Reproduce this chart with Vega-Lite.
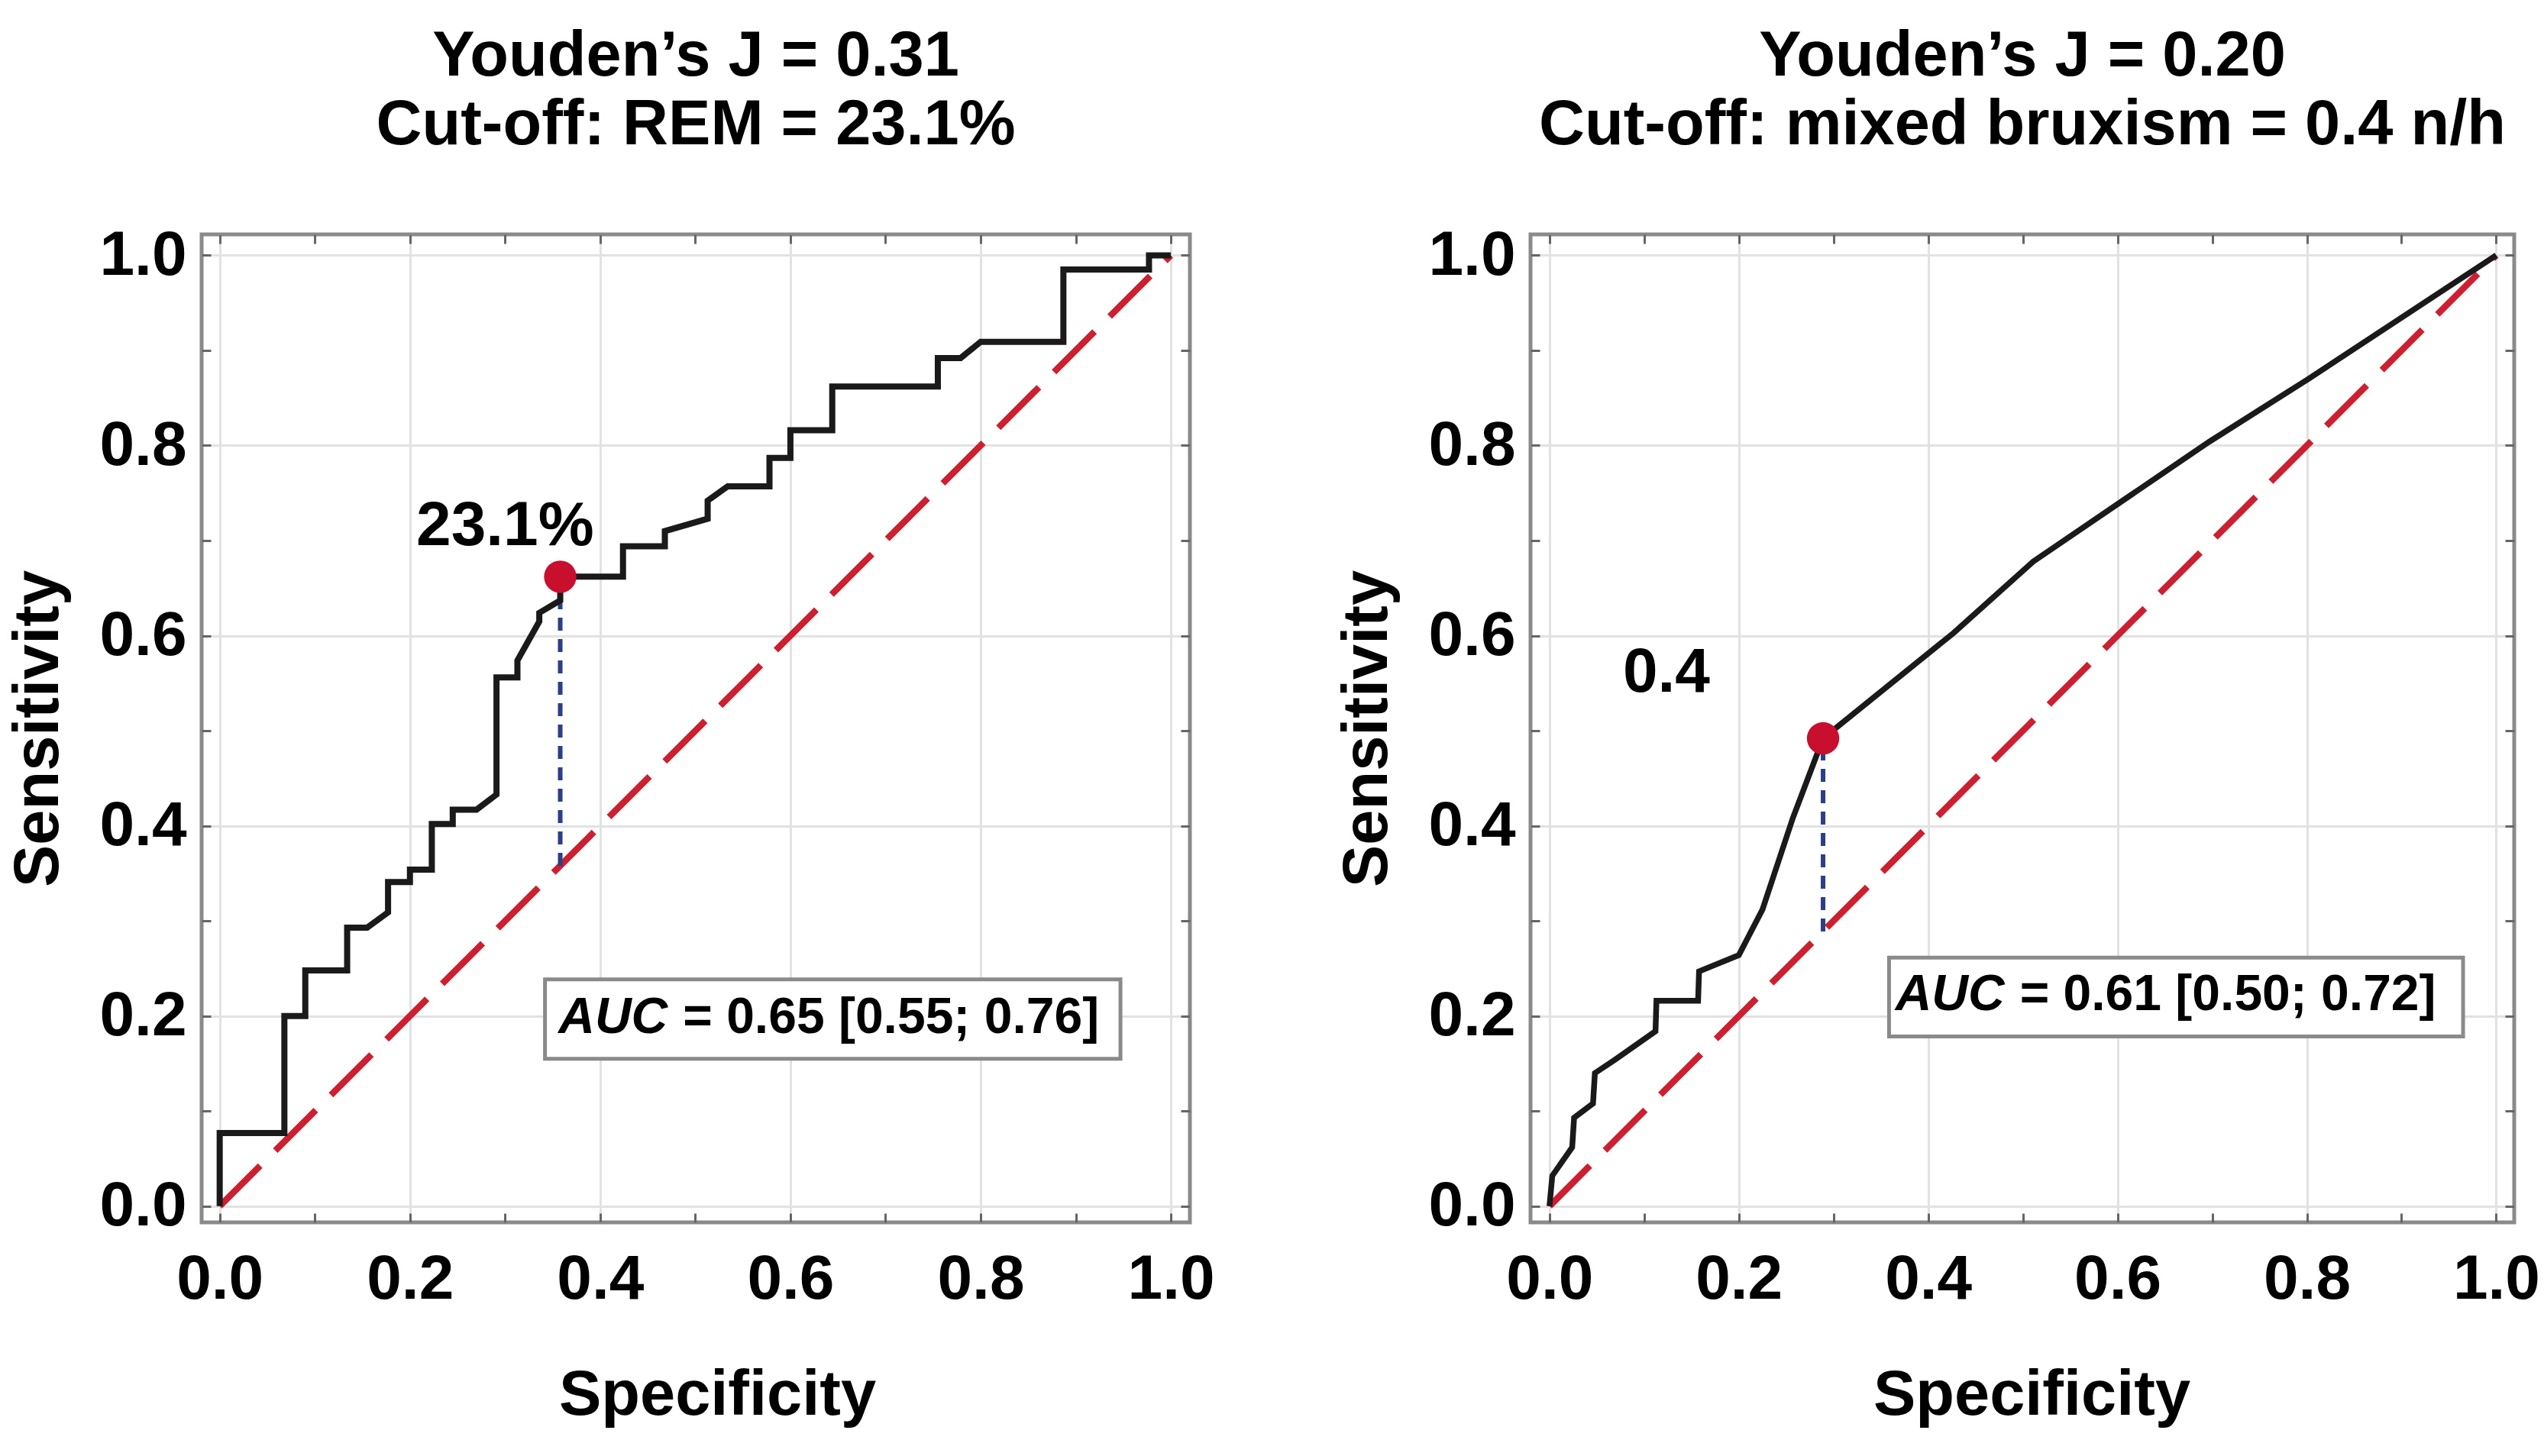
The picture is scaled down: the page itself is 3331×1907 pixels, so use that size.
{
  "$schema": "https://vega.github.io/schema/vega-lite/v6.json",
  "background": "white",
  "padding": {"left": 6, "top": 30, "right": 40, "bottom": 40},
  "spacing": 446,
  "bounds": "flush",
  "config": {
    "view": {"stroke": "#8a8a8a", "strokeWidth": 5},
    "font": "Liberation Sans",
    "title": {"font": "Liberation Sans", "fontSize": 83, "fontWeight": "bold", "color": "black", "lineHeight": 90, "offset": 87, "anchor": "middle", "frame": "group"},
    "axis": {"labelFont": "Liberation Sans", "labelFontWeight": "bold", "labelFontSize": 82, "labelColor": "black", "titleFont": "Liberation Sans", "titleFontWeight": "bold", "titleFontSize": 83, "titleColor": "black", "labelOverlap": false, "labelBound": false, "labelFlush": false, "domain": false, "tickColor": "#666666", "tickWidth": 3}
  },
  "datasets": {
    "roc1": [
      {"i":0,"sp":0,"se":0},{"i":1,"sp":0,"se":0.077},{"i":2,"sp":0.068,"se":0.077},{"i":3,"sp":0.068,"se":0.2},{"i":4,"sp":0.09,"se":0.2},{"i":5,"sp":0.09,"se":0.248},{"i":6,"sp":0.134,"se":0.248},{"i":7,"sp":0.134,"se":0.293},{"i":8,"sp":0.155,"se":0.293},{"i":9,"sp":0.177,"se":0.309},{"i":10,"sp":0.177,"se":0.341},{"i":11,"sp":0.2,"se":0.341},{"i":12,"sp":0.2,"se":0.354},{"i":13,"sp":0.223,"se":0.354},{"i":14,"sp":0.223,"se":0.402},{"i":15,"sp":0.245,"se":0.402},{"i":16,"sp":0.245,"se":0.417},{"i":17,"sp":0.27,"se":0.417},{"i":18,"sp":0.291,"se":0.433},{"i":19,"sp":0.291,"se":0.556},{"i":20,"sp":0.313,"se":0.556},{"i":21,"sp":0.313,"se":0.574},{"i":22,"sp":0.336,"se":0.615},{"i":23,"sp":0.336,"se":0.624},{"i":24,"sp":0.358,"se":0.637},{"i":25,"sp":0.358,"se":0.662},{"i":26,"sp":0.424,"se":0.662},{"i":27,"sp":0.424,"se":0.694},{"i":28,"sp":0.468,"se":0.694},{"i":29,"sp":0.468,"se":0.71},{"i":30,"sp":0.513,"se":0.723},{"i":31,"sp":0.513,"se":0.742},{"i":32,"sp":0.534,"se":0.757},{"i":33,"sp":0.578,"se":0.757},{"i":34,"sp":0.578,"se":0.787},{"i":35,"sp":0.6,"se":0.787},{"i":36,"sp":0.6,"se":0.816},{"i":37,"sp":0.644,"se":0.816},{"i":38,"sp":0.644,"se":0.862},{"i":39,"sp":0.755,"se":0.862},{"i":40,"sp":0.755,"se":0.892},{"i":41,"sp":0.779,"se":0.892},{"i":42,"sp":0.8,"se":0.909},{"i":43,"sp":0.887,"se":0.909},{"i":44,"sp":0.887,"se":0.985},{"i":45,"sp":0.977,"se":0.985},{"i":46,"sp":0.977,"se":1.0},{"i":47,"sp":1.0,"se":1.0}
    ],
    "roc2": [
      {"i":0,"sp":0,"se":0},{"i":1,"sp":0.003,"se":0.032},{"i":2,"sp":0.024,"se":0.062},{"i":3,"sp":0.026,"se":0.093},{"i":4,"sp":0.046,"se":0.108},{"i":5,"sp":0.048,"se":0.14},{"i":6,"sp":0.069,"se":0.154},{"i":7,"sp":0.112,"se":0.184},{"i":8,"sp":0.113,"se":0.216},{"i":9,"sp":0.157,"se":0.216},{"i":10,"sp":0.158,"se":0.247},{"i":11,"sp":0.2,"se":0.264},{"i":12,"sp":0.225,"se":0.312},{"i":13,"sp":0.257,"se":0.408},{"i":14,"sp":0.289,"se":0.492},{"i":15,"sp":0.427,"se":0.603},{"i":16,"sp":0.511,"se":0.678},{"i":17,"sp":0.697,"se":0.804},{"i":18,"sp":0.8,"se":0.869},{"i":19,"sp":1.0,"se":1.0}
    ],
    "ann1": [{"cx":0.358,"cy":0.662,"d":0.358,"lx":0.30,"ly":0.715,"label":"23.1%","bx0":0.342,"bx1":0.947,"by0":0.155,"by1":0.2386,"ax":0.471,"ay":0.198,"auc":"AUC","rest":"= 0.65 [0.55; 0.76]"}],
    "ann2": [{"cx":0.289,"cy":0.492,"d":0.289,"lx":0.1235,"ly":0.561,"label":"0.4","bx0":0.3587,"bx1":0.965,"by0":0.1786,"by1":0.2615,"ax":0.4807,"ay":0.222,"auc":"AUC","rest":"= 0.61 [0.50; 0.72]"}],
    "diag": [{"x0":0,"y0":0,"x1":1,"y1":1}]
  },
  "hconcat": [
    {
      "width": 1294, "height": 1294,
      "title": {"text": ["Youden’s J = 0.31", "Cut-off: REM = 23.1%"]},
      "resolve": {"axis": {"x": "independent", "y": "independent"}},
      "layer": [
        {
          "data": {"name": "diag"},
          "mark": {"type": "rule", "color": "#cc1f2f", "strokeWidth": 8.5, "strokeDash": [75, 28]},
          "encoding": {
            "x": {"field": "x0", "type": "quantitative", "scale": {"domain": [-0.019, 1.02], "nice": false, "zero": false},
              "axis": {"orient": "bottom", "title": "Specificity", "titleX": 675, "values": [0,0.1,0.2,0.3,0.4,0.5,0.6,0.7,0.8,0.9,1.0], "labelExpr": "round(datum.value*10)%2==0 ? format(datum.value,'.1f') : ''", "grid": true, "gridColor": "#e2e2e2", "gridWidth": 3, "gridOpacity": {"condition": {"test": "round(datum.value*10)%2==1", "value": 0}, "value": 1}, "tickSize": -12, "labelPadding": 46, "titlePadding": 70}},
            "y": {"field": "y0", "type": "quantitative", "scale": {"domain": [-0.017, 1.022], "nice": false, "zero": false},
              "axis": {"orient": "left", "title": "Sensitivity", "values": [0,0.1,0.2,0.3,0.4,0.5,0.6,0.7,0.8,0.9,1.0], "labelExpr": "round(datum.value*10)%2==0 ? format(datum.value,'.1f') : ''", "grid": true, "gridColor": "#e2e2e2", "gridWidth": 3, "gridOpacity": {"condition": {"test": "round(datum.value*10)%2==1", "value": 0}, "value": 1}, "tickSize": -12, "labelPadding": 32, "titlePadding": 38}},
            "x2": {"field": "x1"}, "y2": {"field": "y1"}
          }
        },
        {
          "data": {"name": "ann1"},
          "mark": {"type": "rule", "color": "#2c3e85", "strokeWidth": 6, "strokeDash": [17, 11]},
          "encoding": {
            "x": {"field": "cx", "type": "quantitative", "scale": {"domain": [-0.019, 1.02], "nice": false, "zero": false},
              "axis": {"orient": "top", "title": null, "labels": false, "grid": false, "values": [0,0.1,0.2,0.3,0.4,0.5,0.6,0.7,0.8,0.9,1.0], "tickSize": -12}},
            "y": {"field": "d", "type": "quantitative", "scale": {"domain": [-0.017, 1.022], "nice": false, "zero": false},
              "axis": {"orient": "right", "title": null, "labels": false, "grid": false, "values": [0,0.1,0.2,0.3,0.4,0.5,0.6,0.7,0.8,0.9,1.0], "tickSize": -12}},
            "y2": {"field": "cy"}
          }
        },
        {
          "data": {"name": "roc1"},
          "mark": {"type": "line", "color": "#1a1a1a", "strokeWidth": 8, "strokeJoin": "miter"},
          "encoding": {
            "x": {"field": "sp", "type": "quantitative", "scale": {"domain": [-0.019, 1.02], "nice": false, "zero": false}, "axis": null},
            "y": {"field": "se", "type": "quantitative", "scale": {"domain": [-0.017, 1.022], "nice": false, "zero": false}, "axis": null},
            "order": {"field": "i", "type": "quantitative"}
          }
        },
        {
          "data": {"name": "ann1"},
          "mark": {"type": "circle", "color": "#c8102e", "opacity": 1, "size": 1800},
          "encoding": {
            "x": {"field": "cx", "type": "quantitative", "scale": {"domain": [-0.019, 1.02], "nice": false, "zero": false}, "axis": null},
            "y": {"field": "cy", "type": "quantitative", "scale": {"domain": [-0.017, 1.022], "nice": false, "zero": false}, "axis": null}
          }
        },
        {
          "data": {"name": "ann1"},
          "mark": {"type": "text", "font": "Liberation Sans", "fontWeight": "bold", "fontSize": 82, "color": "black", "align": "center", "baseline": "middle"},
          "encoding": {
            "x": {"field": "lx", "type": "quantitative", "scale": {"domain": [-0.019, 1.02], "nice": false, "zero": false}, "axis": null},
            "y": {"field": "ly", "type": "quantitative", "scale": {"domain": [-0.017, 1.022], "nice": false, "zero": false}, "axis": null},
            "text": {"field": "label"}
          }
        },
        {
          "data": {"name": "ann1"},
          "mark": {"type": "rect", "fill": "white", "stroke": "#8a8a8a", "strokeWidth": 5},
          "encoding": {
            "x": {"field": "bx0", "type": "quantitative", "scale": {"domain": [-0.019, 1.02], "nice": false, "zero": false}, "axis": null},
            "x2": {"field": "bx1"},
            "y": {"field": "by0", "type": "quantitative", "scale": {"domain": [-0.017, 1.022], "nice": false, "zero": false}, "axis": null},
            "y2": {"field": "by1"}
          }
        },
        {
          "data": {"name": "ann1"},
          "mark": {"type": "text", "font": "Liberation Sans", "fontWeight": "bold", "fontStyle": "italic", "fontSize": 66, "color": "black", "align": "right", "baseline": "middle"},
          "encoding": {
            "x": {"field": "ax", "type": "quantitative", "scale": {"domain": [-0.019, 1.02], "nice": false, "zero": false}, "axis": null},
            "y": {"field": "ay", "type": "quantitative", "scale": {"domain": [-0.017, 1.022], "nice": false, "zero": false}, "axis": null},
            "text": {"field": "auc"}
          }
        },
        {
          "data": {"name": "ann1"},
          "mark": {"type": "text", "font": "Liberation Sans", "fontWeight": "bold", "fontSize": 66, "color": "black", "align": "left", "baseline": "middle", "dx": 20},
          "encoding": {
            "x": {"field": "ax", "type": "quantitative", "scale": {"domain": [-0.019, 1.02], "nice": false, "zero": false}, "axis": null},
            "y": {"field": "ay", "type": "quantitative", "scale": {"domain": [-0.017, 1.022], "nice": false, "zero": false}, "axis": null},
            "text": {"field": "rest"}
          }
        }
      ]
    },
    {
      "width": 1288, "height": 1294,
      "title": {"text": ["Youden’s J = 0.20", "Cut-off: mixed bruxism = 0.4 n/h"]},
      "resolve": {"axis": {"x": "independent", "y": "independent"}},
      "layer": [
        {
          "data": {"name": "diag"},
          "mark": {"type": "rule", "color": "#cc1f2f", "strokeWidth": 8.5, "strokeDash": [75, 28]},
          "encoding": {
            "x": {"field": "x0", "type": "quantitative", "scale": {"domain": [-0.02, 1.019], "nice": false, "zero": false},
              "axis": {"orient": "bottom", "title": "Specificity", "titleX": 656, "values": [0,0.1,0.2,0.3,0.4,0.5,0.6,0.7,0.8,0.9,1.0], "labelExpr": "round(datum.value*10)%2==0 ? format(datum.value,'.1f') : ''", "grid": true, "gridColor": "#e2e2e2", "gridWidth": 3, "gridOpacity": {"condition": {"test": "round(datum.value*10)%2==1", "value": 0}, "value": 1}, "tickSize": -12, "labelPadding": 46, "titlePadding": 70}},
            "y": {"field": "y0", "type": "quantitative", "scale": {"domain": [-0.017, 1.022], "nice": false, "zero": false},
              "axis": {"orient": "left", "title": "Sensitivity", "values": [0,0.1,0.2,0.3,0.4,0.5,0.6,0.7,0.8,0.9,1.0], "labelExpr": "round(datum.value*10)%2==0 ? format(datum.value,'.1f') : ''", "grid": true, "gridColor": "#e2e2e2", "gridWidth": 3, "gridOpacity": {"condition": {"test": "round(datum.value*10)%2==1", "value": 0}, "value": 1}, "tickSize": -12, "labelPadding": 32, "titlePadding": 38}},
            "x2": {"field": "x1"}, "y2": {"field": "y1"}
          }
        },
        {
          "data": {"name": "ann2"},
          "mark": {"type": "rule", "color": "#2c3e85", "strokeWidth": 6, "strokeDash": [17, 11]},
          "encoding": {
            "x": {"field": "cx", "type": "quantitative", "scale": {"domain": [-0.02, 1.019], "nice": false, "zero": false},
              "axis": {"orient": "top", "title": null, "labels": false, "grid": false, "values": [0,0.1,0.2,0.3,0.4,0.5,0.6,0.7,0.8,0.9,1.0], "tickSize": -12}},
            "y": {"field": "d", "type": "quantitative", "scale": {"domain": [-0.017, 1.022], "nice": false, "zero": false},
              "axis": {"orient": "right", "title": null, "labels": false, "grid": false, "values": [0,0.1,0.2,0.3,0.4,0.5,0.6,0.7,0.8,0.9,1.0], "tickSize": -12}},
            "y2": {"field": "cy"}
          }
        },
        {
          "data": {"name": "roc2"},
          "mark": {"type": "line", "color": "#1a1a1a", "strokeWidth": 7.5},
          "encoding": {
            "x": {"field": "sp", "type": "quantitative", "scale": {"domain": [-0.02, 1.019], "nice": false, "zero": false}, "axis": null},
            "y": {"field": "se", "type": "quantitative", "scale": {"domain": [-0.017, 1.022], "nice": false, "zero": false}, "axis": null},
            "order": {"field": "i", "type": "quantitative"}
          }
        },
        {
          "data": {"name": "ann2"},
          "mark": {"type": "circle", "color": "#c8102e", "opacity": 1, "size": 1800},
          "encoding": {
            "x": {"field": "cx", "type": "quantitative", "scale": {"domain": [-0.02, 1.019], "nice": false, "zero": false}, "axis": null},
            "y": {"field": "cy", "type": "quantitative", "scale": {"domain": [-0.017, 1.022], "nice": false, "zero": false}, "axis": null}
          }
        },
        {
          "data": {"name": "ann2"},
          "mark": {"type": "text", "font": "Liberation Sans", "fontWeight": "bold", "fontSize": 82, "color": "black", "align": "center", "baseline": "middle"},
          "encoding": {
            "x": {"field": "lx", "type": "quantitative", "scale": {"domain": [-0.02, 1.019], "nice": false, "zero": false}, "axis": null},
            "y": {"field": "ly", "type": "quantitative", "scale": {"domain": [-0.017, 1.022], "nice": false, "zero": false}, "axis": null},
            "text": {"field": "label"}
          }
        },
        {
          "data": {"name": "ann2"},
          "mark": {"type": "rect", "fill": "white", "stroke": "#8a8a8a", "strokeWidth": 5},
          "encoding": {
            "x": {"field": "bx0", "type": "quantitative", "scale": {"domain": [-0.02, 1.019], "nice": false, "zero": false}, "axis": null},
            "x2": {"field": "bx1"},
            "y": {"field": "by0", "type": "quantitative", "scale": {"domain": [-0.017, 1.022], "nice": false, "zero": false}, "axis": null},
            "y2": {"field": "by1"}
          }
        },
        {
          "data": {"name": "ann2"},
          "mark": {"type": "text", "font": "Liberation Sans", "fontWeight": "bold", "fontStyle": "italic", "fontSize": 66, "color": "black", "align": "right", "baseline": "middle"},
          "encoding": {
            "x": {"field": "ax", "type": "quantitative", "scale": {"domain": [-0.02, 1.019], "nice": false, "zero": false}, "axis": null},
            "y": {"field": "ay", "type": "quantitative", "scale": {"domain": [-0.017, 1.022], "nice": false, "zero": false}, "axis": null},
            "text": {"field": "auc"}
          }
        },
        {
          "data": {"name": "ann2"},
          "mark": {"type": "text", "font": "Liberation Sans", "fontWeight": "bold", "fontSize": 66, "color": "black", "align": "left", "baseline": "middle", "dx": 20},
          "encoding": {
            "x": {"field": "ax", "type": "quantitative", "scale": {"domain": [-0.02, 1.019], "nice": false, "zero": false}, "axis": null},
            "y": {"field": "ay", "type": "quantitative", "scale": {"domain": [-0.017, 1.022], "nice": false, "zero": false}, "axis": null},
            "text": {"field": "rest"}
          }
        }
      ]
    }
  ]
}
